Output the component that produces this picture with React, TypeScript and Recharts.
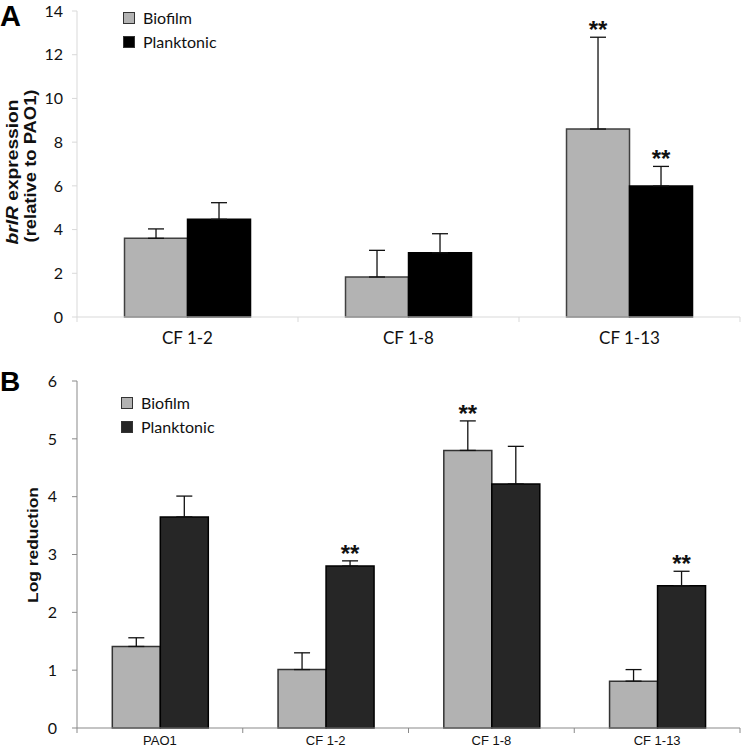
import React from 'react';
import {
  BarChart, Bar, XAxis, YAxis, Legend, ErrorBar, LabelList,
} from 'recharts';

// Panel A: brlR expression relative to PAO1
const categoriesA = ['CF 1-2', 'CF 1-8', 'CF 1-13'];
const biofilmA = [3.6, 1.83, 8.6];
const biofilmErrA = [0.43, 1.22, 4.2];
const planktonicA = [4.47, 2.94, 5.99];
const planktonicErrA = [0.76, 0.87, 0.9];
const biofilmSigA = [false, false, true];
const planktonicSigA = [false, false, true];
const ticksA = [0, 2, 4, 6, 8, 10, 12, 14];

// Panel B: log reduction
const categoriesB = ['PAO1', 'CF 1-2', 'CF 1-8', 'CF 1-13'];
const biofilmB = [1.41, 1.01, 4.8, 0.81];
const biofilmErrB = [0.15, 0.29, 0.51, 0.2];
const planktonicB = [3.65, 2.8, 4.22, 2.46];
const planktonicErrB = [0.36, 0.09, 0.65, 0.25];
const biofilmSigB = [false, false, true, false];
const planktonicSigB = [false, true, false, true];
const ticksB = [0, 1, 2, 3, 4, 5, 6];

const W = 742;
const Y_AXIS_W = 77;
const RIGHT = 2;
const CALIBRI = 'Lato, "Noto Sans", sans-serif';
const ARIAL = '"Liberation Sans", Arial, sans-serif';

const dataA = categoriesA.map((name, i) => ({
  name,
  biofilm: biofilmA[i],
  biofilmErr: [0, biofilmErrA[i]],
  planktonic: planktonicA[i],
  planktonicErr: [0, planktonicErrA[i]],
}));

const dataB = categoriesB.map((name, i) => ({
  name,
  biofilm: biofilmB[i],
  biofilmErr: [0, biofilmErrB[i]],
  planktonic: planktonicB[i],
  planktonicErr: [0, planktonicErrB[i]],
}));

function CategoryTick(props: any) {
  const { x, y, payload, index, band, count, font, size, lineColor, dy } = props;
  const left = x - band / 2;
  return (
    <g>
      <line x1={left} x2={left} y1={y} y2={y + 5} stroke={lineColor} />
      {index === count - 1 && (
        <line x1={left + band} x2={left + band} y1={y} y2={y + 5} stroke={lineColor} />
      )}
      <text x={x} y={y + dy} textAnchor="middle" fontFamily={font} fontSize={size} fill="#111">
        {payload.value}
      </text>
    </g>
  );
}

const starLabel = (sig: boolean[], values: number[], err: number[]) => (props: any) => {
  const vb = props.viewBox || props;
  const index = props.index;
  if (!sig[index]) return null;
  const { x, y, width, height } = vb;
  const top = y - err[index] * (height / values[index]);
  return (
    <text x={x + width / 2} y={top + 1} textAnchor="middle"
      fontFamily={ARIAL} fontWeight="bold" fontSize={24} fill="#111">
      **
    </text>
  );
};

const LegendBox = (props: any) => (
  <div>
    {props.payload.map((p: any) => (
      <div key={p.value} style={{ display: 'flex', alignItems: 'center', height: 24 }}>
        <span style={{
          width: 10, height: 10, background: p.color,
          border: '1px solid #333', marginRight: 8, display: 'inline-block',
        }} />
        <span style={{ fontFamily: CALIBRI, fontSize: 16, color: '#111', lineHeight: '16px' }}>
          {p.value}
        </span>
      </div>
    ))}
  </div>
);

const labelA = () => (
  <g>
    <text transform="translate(18,172) rotate(-90)" textAnchor="middle"
      fontFamily={ARIAL} fontWeight="bold" fontSize={16} fill="#111"
      textLength={145} lengthAdjust="spacingAndGlyphs">
      <tspan fontStyle="italic">brlR</tspan> expression
    </text>
    <text transform="translate(36,166) rotate(-90)" textAnchor="middle"
      fontFamily={ARIAL} fontWeight="bold" fontSize={16} fill="#111"
      textLength={153} lengthAdjust="spacingAndGlyphs">
      (relative to PAO1)
    </text>
  </g>
);

const labelB = () => (
  <text transform="translate(38,200) rotate(-90)" textAnchor="middle"
    fontFamily={ARIAL} fontWeight="bold" fontSize={14} fill="#111"
    textLength={116} lengthAdjust="spacingAndGlyphs">
    Log reduction
  </text>
);

const bandA = (W - Y_AXIS_W - RIGHT) / categoriesA.length;
const bandB = (W - Y_AXIS_W - RIGHT) / categoriesB.length;

export default function App() {
  return (
    <div style={{ position: 'absolute', left: 0, top: 0, width: W, height: 749, background: '#fff' }}>
      <div style={{ position: 'absolute', left: 0, top: 0 }}>
        <BarChart width={W} height={355} data={dataA}
          margin={{ top: 11, right: RIGHT, left: 0, bottom: 0 }}
          barCategoryGap="21.5%" barGap={0}>
          <XAxis dataKey="name" height={38} stroke="#d9d9d9" tickLine={false}
            tickSize={0} tickMargin={0} interval={0}
            tick={<CategoryTick band={bandA} count={categoriesA.length} font={CALIBRI}
              size={17} lineColor="#d9d9d9" dy={27} />} />
          <YAxis width={Y_AXIS_W} domain={[0, 14]} ticks={ticksA} stroke="#d9d9d9"
            tickSize={5} tickMargin={9}
            tick={{ fontFamily: CALIBRI, fontSize: 16, fill: '#111' }}
            label={{ content: labelA }} />
          <Legend content={<LegendBox />} layout="vertical" align="center" verticalAlign="middle"
            wrapperStyle={{ left: 123, top: 6, width: 'auto', height: 'auto' }} />
          <Bar dataKey="biofilm" name="Biofilm" fill="#b3b3b3" stroke="#404040"
            strokeWidth={1.5} isAnimationActive={false}>
            <ErrorBar dataKey="biofilmErr" width={8} stroke="#111" strokeWidth={1.3} direction="y" />
            <LabelList content={starLabel(biofilmSigA, biofilmA, biofilmErrA)} />
          </Bar>
          <Bar dataKey="planktonic" name="Planktonic" fill="#000" stroke="#000"
            strokeWidth={1.5} isAnimationActive={false}>
            <ErrorBar dataKey="planktonicErr" width={8} stroke="#111" strokeWidth={1.3} direction="y" />
            <LabelList content={starLabel(planktonicSigA, planktonicA, planktonicErrA)} />
          </Bar>
        </BarChart>
      </div>
      <div style={{ position: 'absolute', left: 0, top: 345 }}>
        <BarChart width={W} height={404} data={dataB}
          margin={{ top: 36, right: RIGHT, left: 0, bottom: 0 }}
          barCategoryGap="21.3%" barGap={0}>
          <XAxis dataKey="name" height={21} stroke="#898989" tickLine={false}
            tickSize={0} tickMargin={0} interval={0}
            tick={<CategoryTick band={bandB} count={categoriesB.length} font={ARIAL}
              size={13} lineColor="#898989" dy={17} />} />
          <YAxis width={Y_AXIS_W} domain={[0, 6]} ticks={ticksB} stroke="#898989"
            tickSize={5} tickMargin={15}
            tick={{ fontFamily: CALIBRI, fontSize: 16, fill: '#111' }}
            label={{ content: labelB }} />
          <Legend content={<LegendBox />} layout="vertical" align="center" verticalAlign="middle"
            wrapperStyle={{ left: 121, top: 46, width: 'auto', height: 'auto' }} />
          <Bar dataKey="biofilm" name="Biofilm" fill="#b2b2b2" stroke="#333"
            strokeWidth={1.5} isAnimationActive={false}>
            <ErrorBar dataKey="biofilmErr" width={8} stroke="#111" strokeWidth={1.3} direction="y" />
            <LabelList content={starLabel(biofilmSigB, biofilmB, biofilmErrB)} />
          </Bar>
          <Bar dataKey="planktonic" name="Planktonic" fill="#262626" stroke="#000"
            strokeWidth={1.5} isAnimationActive={false}>
            <ErrorBar dataKey="planktonicErr" width={8} stroke="#111" strokeWidth={1.3} direction="y" />
            <LabelList content={starLabel(planktonicSigB, planktonicB, planktonicErrB)} />
          </Bar>
        </BarChart>
      </div>
      <div style={{
        position: 'absolute', left: 0, top: 0, fontFamily: ARIAL,
        fontWeight: 'bold', fontSize: 29, color: '#000',
      }}>A</div>
      <div style={{
        position: 'absolute', left: 0, top: 366, fontFamily: ARIAL,
        fontWeight: 'bold', fontSize: 28, color: '#000',
      }}>B</div>
    </div>
  );
}
